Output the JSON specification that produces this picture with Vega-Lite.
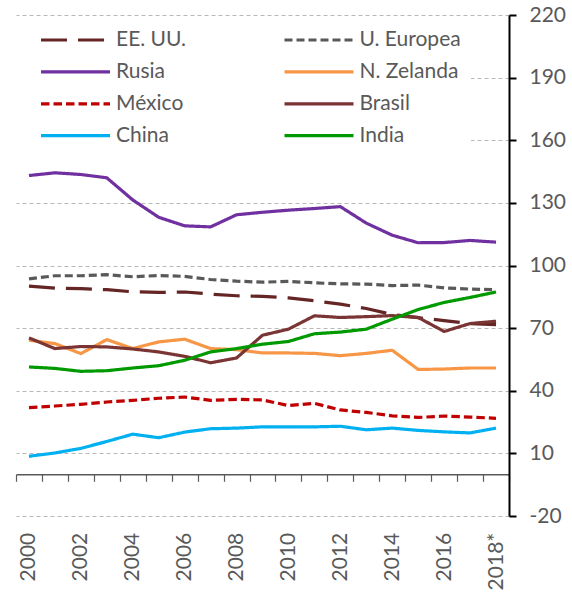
{
  "$schema": "https://vega.github.io/schema/vega-lite/v6.json",
  "width": 493,
  "height": 501,
  "autosize": {"type": "none"},
  "padding": {"left": 16, "top": 15, "right": 63, "bottom": 78},
  "background": "white",
  "config": {
    "view": {"stroke": null},
    "font": "Lato",
    "axis": {"labelFont": "Lato", "labelColor": "#595959", "labelFontSize": 21},
    "legend": {"labelFont": "Lato"}
  },
  "data": {"values": [
    {"country": "EE. UU.", "year": 2000, "value": 90.1},
    {"country": "EE. UU.", "year": 2001, "value": 89.2},
    {"country": "EE. UU.", "year": 2002, "value": 88.9},
    {"country": "EE. UU.", "year": 2003, "value": 88.4},
    {"country": "EE. UU.", "year": 2004, "value": 87.4},
    {"country": "EE. UU.", "year": 2005, "value": 87.1},
    {"country": "EE. UU.", "year": 2006, "value": 87.3},
    {"country": "EE. UU.", "year": 2007, "value": 86.3},
    {"country": "EE. UU.", "year": 2008, "value": 85.5},
    {"country": "EE. UU.", "year": 2009, "value": 85.2},
    {"country": "EE. UU.", "year": 2010, "value": 84.5},
    {"country": "EE. UU.", "year": 2011, "value": 83.1},
    {"country": "EE. UU.", "year": 2012, "value": 81.5},
    {"country": "EE. UU.", "year": 2013, "value": 79.4},
    {"country": "EE. UU.", "year": 2014, "value": 76.5},
    {"country": "EE. UU.", "year": 2015, "value": 75.0},
    {"country": "EE. UU.", "year": 2016, "value": 73.6},
    {"country": "EE. UU.", "year": 2017, "value": 72.2},
    {"country": "EE. UU.", "year": 2018, "value": 71.7},
    {"country": "U. Europea", "year": 2000, "value": 93.6},
    {"country": "U. Europea", "year": 2001, "value": 95.1},
    {"country": "U. Europea", "year": 2002, "value": 95.1},
    {"country": "U. Europea", "year": 2003, "value": 95.6},
    {"country": "U. Europea", "year": 2004, "value": 94.6},
    {"country": "U. Europea", "year": 2005, "value": 95.2},
    {"country": "U. Europea", "year": 2006, "value": 94.8},
    {"country": "U. Europea", "year": 2007, "value": 93.3},
    {"country": "U. Europea", "year": 2008, "value": 92.5},
    {"country": "U. Europea", "year": 2009, "value": 92.0},
    {"country": "U. Europea", "year": 2010, "value": 92.4},
    {"country": "U. Europea", "year": 2011, "value": 91.7},
    {"country": "U. Europea", "year": 2012, "value": 91.2},
    {"country": "U. Europea", "year": 2013, "value": 91.1},
    {"country": "U. Europea", "year": 2014, "value": 90.4},
    {"country": "U. Europea", "year": 2015, "value": 90.6},
    {"country": "U. Europea", "year": 2016, "value": 89.3},
    {"country": "U. Europea", "year": 2017, "value": 88.7},
    {"country": "U. Europea", "year": 2018, "value": 88.4},
    {"country": "Rusia", "year": 2000, "value": 143.1},
    {"country": "Rusia", "year": 2001, "value": 144.4},
    {"country": "Rusia", "year": 2002, "value": 143.6},
    {"country": "Rusia", "year": 2003, "value": 142.0},
    {"country": "Rusia", "year": 2004, "value": 131.4},
    {"country": "Rusia", "year": 2005, "value": 123.1},
    {"country": "Rusia", "year": 2006, "value": 119.0},
    {"country": "Rusia", "year": 2007, "value": 118.5},
    {"country": "Rusia", "year": 2008, "value": 124.3},
    {"country": "Rusia", "year": 2009, "value": 125.5},
    {"country": "Rusia", "year": 2010, "value": 126.5},
    {"country": "Rusia", "year": 2011, "value": 127.3},
    {"country": "Rusia", "year": 2012, "value": 128.2},
    {"country": "Rusia", "year": 2013, "value": 120.3},
    {"country": "Rusia", "year": 2014, "value": 114.5},
    {"country": "Rusia", "year": 2015, "value": 110.9},
    {"country": "Rusia", "year": 2016, "value": 111.0},
    {"country": "Rusia", "year": 2017, "value": 112.0},
    {"country": "Rusia", "year": 2018, "value": 111.2},
    {"country": "N. Zelanda", "year": 2000, "value": 64.2},
    {"country": "N. Zelanda", "year": 2001, "value": 62.6},
    {"country": "N. Zelanda", "year": 2002, "value": 57.8},
    {"country": "N. Zelanda", "year": 2003, "value": 64.5},
    {"country": "N. Zelanda", "year": 2004, "value": 60.2},
    {"country": "N. Zelanda", "year": 2005, "value": 63.4},
    {"country": "N. Zelanda", "year": 2006, "value": 64.7},
    {"country": "N. Zelanda", "year": 2007, "value": 60.2},
    {"country": "N. Zelanda", "year": 2008, "value": 59.7},
    {"country": "N. Zelanda", "year": 2009, "value": 58.1},
    {"country": "N. Zelanda", "year": 2010, "value": 58.1},
    {"country": "N. Zelanda", "year": 2011, "value": 57.9},
    {"country": "N. Zelanda", "year": 2012, "value": 56.8},
    {"country": "N. Zelanda", "year": 2013, "value": 57.9},
    {"country": "N. Zelanda", "year": 2014, "value": 59.4},
    {"country": "N. Zelanda", "year": 2015, "value": 50.2},
    {"country": "N. Zelanda", "year": 2016, "value": 50.4},
    {"country": "N. Zelanda", "year": 2017, "value": 50.9},
    {"country": "N. Zelanda", "year": 2018, "value": 50.9},
    {"country": "México", "year": 2000, "value": 31.9},
    {"country": "México", "year": 2001, "value": 32.7},
    {"country": "México", "year": 2002, "value": 33.5},
    {"country": "México", "year": 2003, "value": 34.6},
    {"country": "México", "year": 2004, "value": 35.4},
    {"country": "México", "year": 2005, "value": 36.4},
    {"country": "México", "year": 2006, "value": 37.0},
    {"country": "México", "year": 2007, "value": 35.4},
    {"country": "México", "year": 2008, "value": 35.9},
    {"country": "México", "year": 2009, "value": 35.6},
    {"country": "México", "year": 2010, "value": 32.9},
    {"country": "México", "year": 2011, "value": 34.0},
    {"country": "México", "year": 2012, "value": 30.8},
    {"country": "México", "year": 2013, "value": 29.6},
    {"country": "México", "year": 2014, "value": 28.0},
    {"country": "México", "year": 2015, "value": 27.2},
    {"country": "México", "year": 2016, "value": 27.9},
    {"country": "México", "year": 2017, "value": 27.4},
    {"country": "México", "year": 2018, "value": 26.8},
    {"country": "Brasil", "year": 2000, "value": 65.3},
    {"country": "Brasil", "year": 2001, "value": 60.2},
    {"country": "Brasil", "year": 2002, "value": 61.2},
    {"country": "Brasil", "year": 2003, "value": 61.0},
    {"country": "Brasil", "year": 2004, "value": 60.0},
    {"country": "Brasil", "year": 2005, "value": 58.6},
    {"country": "Brasil", "year": 2006, "value": 56.5},
    {"country": "Brasil", "year": 2007, "value": 53.4},
    {"country": "Brasil", "year": 2008, "value": 55.7},
    {"country": "Brasil", "year": 2009, "value": 66.6},
    {"country": "Brasil", "year": 2010, "value": 69.5},
    {"country": "Brasil", "year": 2011, "value": 75.9},
    {"country": "Brasil", "year": 2012, "value": 75.1},
    {"country": "Brasil", "year": 2013, "value": 75.5},
    {"country": "Brasil", "year": 2014, "value": 76.0},
    {"country": "Brasil", "year": 2015, "value": 75.1},
    {"country": "Brasil", "year": 2016, "value": 68.4},
    {"country": "Brasil", "year": 2017, "value": 72.2},
    {"country": "Brasil", "year": 2018, "value": 73.3},
    {"country": "China", "year": 2000, "value": 8.6},
    {"country": "China", "year": 2001, "value": 10.2},
    {"country": "China", "year": 2002, "value": 12.4},
    {"country": "China", "year": 2003, "value": 15.7},
    {"country": "China", "year": 2004, "value": 19.2},
    {"country": "China", "year": 2005, "value": 17.5},
    {"country": "China", "year": 2006, "value": 20.2},
    {"country": "China", "year": 2007, "value": 21.8},
    {"country": "China", "year": 2008, "value": 22.1},
    {"country": "China", "year": 2009, "value": 22.7},
    {"country": "China", "year": 2010, "value": 22.7},
    {"country": "China", "year": 2011, "value": 22.7},
    {"country": "China", "year": 2012, "value": 23.0},
    {"country": "China", "year": 2013, "value": 21.3},
    {"country": "China", "year": 2014, "value": 22.1},
    {"country": "China", "year": 2015, "value": 21.0},
    {"country": "China", "year": 2016, "value": 20.3},
    {"country": "China", "year": 2017, "value": 19.8},
    {"country": "China", "year": 2018, "value": 22.1},
    {"country": "India", "year": 2000, "value": 51.4},
    {"country": "India", "year": 2001, "value": 50.7},
    {"country": "India", "year": 2002, "value": 49.3},
    {"country": "India", "year": 2003, "value": 49.6},
    {"country": "India", "year": 2004, "value": 50.9},
    {"country": "India", "year": 2005, "value": 52.0},
    {"country": "India", "year": 2006, "value": 54.6},
    {"country": "India", "year": 2007, "value": 58.6},
    {"country": "India", "year": 2008, "value": 60.2},
    {"country": "India", "year": 2009, "value": 62.3},
    {"country": "India", "year": 2010, "value": 63.6},
    {"country": "India", "year": 2011, "value": 67.3},
    {"country": "India", "year": 2012, "value": 68.1},
    {"country": "India", "year": 2013, "value": 69.5},
    {"country": "India", "year": 2014, "value": 74.3},
    {"country": "India", "year": 2015, "value": 78.9},
    {"country": "India", "year": 2016, "value": 82.3},
    {"country": "India", "year": 2017, "value": 84.7},
    {"country": "India", "year": 2018, "value": 87.3}
  ]},
  "mark": {"type": "line", "strokeWidth": 3.2, "strokeCap": "butt", "strokeJoin": "round"},
  "encoding": {
    "x": {
      "field": "year",
      "type": "quantitative",
      "scale": {"domain": [1999.5, 2018.5], "nice": false, "zero": false},
      "axis": {
        "orient": "bottom",
        "title": null,
        "grid": false,
        "offset": -41.75,
        "values": [1999.5, 2000.5, 2001.5, 2002.5, 2003.5, 2004.5, 2005.5, 2006.5, 2007.5, 2008.5, 2009.5, 2010.5, 2011.5, 2012.5, 2013.5, 2014.5, 2015.5, 2016.5, 2017.5, 2018.5],
        "labelExpr": "(datum.value + 0.5) % 2 == 0 ? ((datum.value + 0.5) == 2018 ? '2018*' : '' + (datum.value + 0.5)) : ''",
        "labelAngle": 270,
        "labelAlign": "right",
        "labelBaseline": "middle",
        "labelOffset": 12.97,
        "labelPadding": 51,
        "labelOverlap": false,
        "labelFlush": false,
        "labelBound": false,
        "tickSize": 7,
        "tickColor": "#595959",
        "tickWidth": 1.2,
        "domainColor": "#595959",
        "domainWidth": 1.5
      }
    },
    "y": {
      "field": "value",
      "type": "quantitative",
      "scale": {"domain": [-20, 220], "nice": false, "zero": false},
      "axis": {
        "orient": "right",
        "title": null,
        "values": [-20, 10, 40, 70, 100, 130, 160, 190, 220],
        "labelExpr": "'' + datum.value",
        "grid": true,
        "gridDash": [4, 3],
        "gridColor": "#b8b8b8",
        "gridWidth": 1,
        "domainColor": "#000000",
        "domainWidth": 2,
        "tickColor": "#000000",
        "tickWidth": 2,
        "tickSize": 7,
        "labelPadding": 13,
        "labelBaseline": "middle"
      }
    },
    "color": {
      "field": "country",
      "type": "nominal",
      "scale": {
        "domain": ["EE. UU.", "Rusia", "México", "China", "U. Europea", "N. Zelanda", "Brasil", "India"],
        "range": ["#652525", "#7030A0", "#C00000", "#00B0F0", "#595959", "#F79646", "#7B3434", "#009A00"]
      },
      "legend": {
        "title": null,
        "orient": "none",
        "legendX": -1,
        "legendY": 4,
        "columns": 2,
        "symbolType": "stroke",
        "symbolSize": 4761,
        "symbolStrokeWidth": 3.2,
        "symbolOffset": 14,
        "labelOffset": 4,
        "labelFontSize": 21,
        "labelColor": "#595959",
        "labelFont": "Lato",
        "clipHeight": 22,
        "rowPadding": 9.9,
        "columnPadding": 81.5,
        "padding": 10,
        "fillColor": "white",
        "strokeColor": null
      }
    },
    "strokeDash": {
      "field": "country",
      "type": "nominal",
      "scale": {
        "domain": ["EE. UU.", "Rusia", "México", "China", "U. Europea", "N. Zelanda", "Brasil", "India"],
        "range": [[26, 11], [1, 0], [8.5, 4], [1, 0], [8, 4], [1, 0], [1, 0], [1, 0]]
      },
      "legend": {
        "title": null,
        "orient": "none",
        "legendX": -1,
        "legendY": 4,
        "columns": 2,
        "symbolType": "stroke",
        "symbolSize": 4761,
        "symbolStrokeWidth": 3.2,
        "symbolOffset": 14,
        "labelOffset": 4,
        "labelFontSize": 21,
        "labelColor": "#595959",
        "labelFont": "Lato",
        "clipHeight": 22,
        "rowPadding": 9.9,
        "columnPadding": 81.5,
        "padding": 10,
        "fillColor": "white",
        "strokeColor": null
      }
    }
  }
}
